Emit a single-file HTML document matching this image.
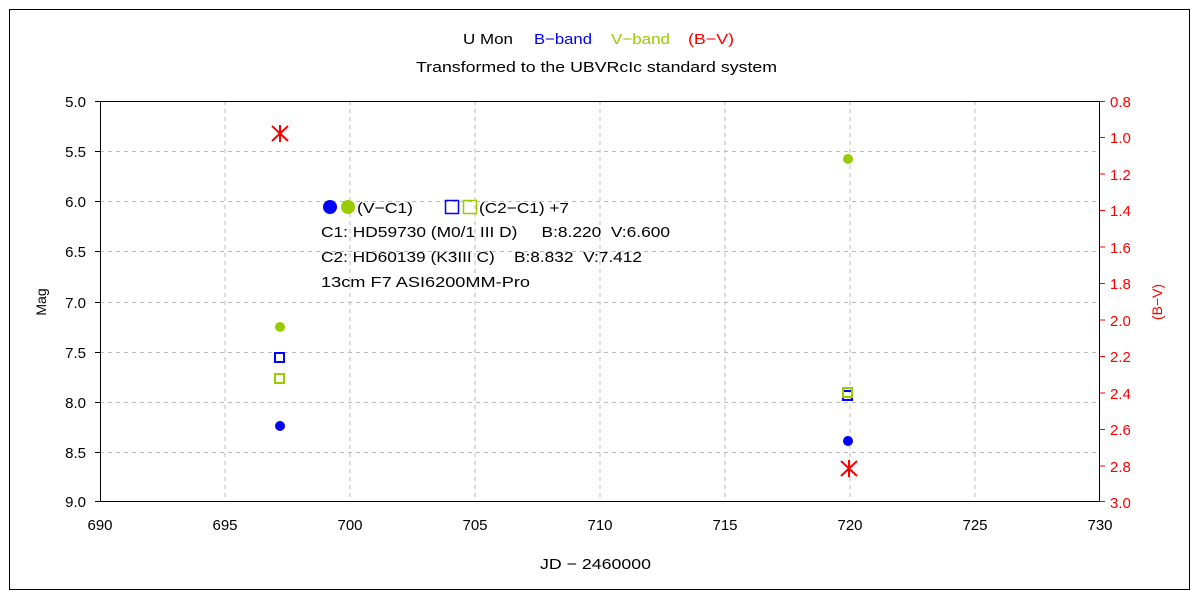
<!DOCTYPE html>
<html><head><meta charset="utf-8"><style>body{margin:0;background:#fff}svg{display:block}text{font-family:"Liberation Sans","Noto Sans CJK JP",sans-serif}</style></head><body>
<svg width="1200" height="600" xmlns="http://www.w3.org/2000/svg">
<rect x="0" y="0" width="1200" height="600" fill="#fff"/>
<rect x="9.5" y="9.5" width="1180" height="580" fill="none" stroke="#000" stroke-width="1"/>
<g stroke="#bbb" stroke-dasharray="4,4" stroke-width="1">
<line x1="225" y1="101" x2="225" y2="502"/><line x1="350" y1="101" x2="350" y2="502"/><line x1="475" y1="101" x2="475" y2="502"/><line x1="600" y1="101" x2="600" y2="502"/><line x1="725" y1="101" x2="725" y2="502"/><line x1="850" y1="101" x2="850" y2="502"/><line x1="975" y1="101" x2="975" y2="502"/>
<line x1="100" y1="151.5" x2="1100" y2="151.5"/><line x1="100" y1="201.5" x2="1100" y2="201.5"/><line x1="100" y1="251.5" x2="1100" y2="251.5"/><line x1="100" y1="302.5" x2="1100" y2="302.5"/><line x1="100" y1="352.5" x2="1100" y2="352.5"/><line x1="100" y1="402.5" x2="1100" y2="402.5"/><line x1="100" y1="452.5" x2="1100" y2="452.5"/>
</g>
<rect x="100.5" y="101.5" width="999" height="400" fill="none" stroke="#000"/>
<g stroke="#000"><line x1="95" y1="101.5" x2="100" y2="101.5"/><line x1="95" y1="151.5" x2="100" y2="151.5"/><line x1="95" y1="201.5" x2="100" y2="201.5"/><line x1="95" y1="251.5" x2="100" y2="251.5"/><line x1="95" y1="302.5" x2="100" y2="302.5"/><line x1="95" y1="352.5" x2="100" y2="352.5"/><line x1="95" y1="402.5" x2="100" y2="402.5"/><line x1="95" y1="452.5" x2="100" y2="452.5"/><line x1="95" y1="501.5" x2="100" y2="501.5"/></g>
<g stroke="red">
<line x1="1100" y1="101.5" x2="1105" y2="101.5"/><line x1="1100" y1="137.5" x2="1105" y2="137.5"/><line x1="1100" y1="174" x2="1105" y2="174"/><line x1="1100" y1="210.5" x2="1105" y2="210.5"/><line x1="1100" y1="247" x2="1105" y2="247"/><line x1="1100" y1="283.5" x2="1105" y2="283.5"/><line x1="1100" y1="320" x2="1105" y2="320"/><line x1="1100" y1="356.5" x2="1105" y2="356.5"/><line x1="1100" y1="393" x2="1105" y2="393"/><line x1="1100" y1="429.5" x2="1105" y2="429.5"/><line x1="1100" y1="466" x2="1105" y2="466"/><line x1="1100" y1="501.5" x2="1105" y2="501.5"/></g>
<g font-size="15" text-anchor="end" fill="#000">
<text x="86" y="107">5.0</text><text x="86" y="157">5.5</text><text x="86" y="207">6.0</text><text x="86" y="257">6.5</text><text x="86" y="308">7.0</text><text x="86" y="358">7.5</text><text x="86" y="408">8.0</text><text x="86" y="458">8.5</text><text x="86" y="507">9.0</text></g>
<g font-size="15" fill="red">
<text x="1110" y="107">0.8</text><text x="1110" y="143">1.0</text><text x="1110" y="180">1.2</text><text x="1110" y="216">1.4</text><text x="1110" y="253">1.6</text><text x="1110" y="289">1.8</text><text x="1110" y="326">2.0</text><text x="1110" y="362">2.2</text><text x="1110" y="399">2.4</text><text x="1110" y="435">2.6</text><text x="1110" y="472">2.8</text><text x="1110" y="508">3.0</text></g>
<g font-size="15" text-anchor="middle">
<text x="100" y="530">690</text><text x="225" y="530">695</text><text x="350" y="530">700</text><text x="475" y="530">705</text><text x="600" y="530">710</text><text x="725" y="530">715</text><text x="850" y="530">720</text><text x="975" y="530">725</text><text x="1100" y="530">730</text>
</g>
<g font-size="15">
<text x="540" y="569" textLength="111" lengthAdjust="spacingAndGlyphs">JD − 2460000</text>
<text x="416" y="72" textLength="361" lengthAdjust="spacingAndGlyphs">Transformed to the UBVRcIc standard system</text>
<text x="463" y="44" textLength="50" lengthAdjust="spacingAndGlyphs">U Mon</text>
<text x="534" y="44" fill="blue" textLength="58" lengthAdjust="spacingAndGlyphs">B−band</text>
<text x="611" y="44" fill="#99cc00" textLength="59" lengthAdjust="spacingAndGlyphs">V−band</text>
<text x="688" y="44" fill="red" textLength="46" lengthAdjust="spacingAndGlyphs">(B−V)</text>
</g>
<text font-size="14" transform="translate(46,302) rotate(-90)" text-anchor="middle">Mag</text>
<text font-size="14" fill="red" transform="translate(1162,302) rotate(-90)" text-anchor="middle">(B−V)</text>
<circle cx="330" cy="207" r="7" fill="blue"/><circle cx="348" cy="207" r="7" fill="#99cc00"/>
<rect x="445.5" y="200.5" width="13" height="13" fill="none" stroke="blue" stroke-width="1.5"/>
<rect x="463.5" y="200.5" width="13" height="13" fill="none" stroke="#99cc00" stroke-width="1.5"/>
<g font-size="15"><text x="357" y="213" textLength="56" lengthAdjust="spacingAndGlyphs">(V−C1)</text><text x="479" y="213" textLength="90" lengthAdjust="spacingAndGlyphs">(C2−C1) +7</text>
<text x="321" y="237" textLength="349" lengthAdjust="spacingAndGlyphs">C1: HD59730 (M0/1 III D)&#160;&#160;&#160;&#160; B:8.220&#160;&#160;V:6.600</text>
<text x="321" y="262" textLength="321" lengthAdjust="spacingAndGlyphs">C2: HD60139 (K3III C)&#160;&#160;&#160; B:8.832&#160;&#160;V:7.412</text>
<text x="321" y="287" textLength="209" lengthAdjust="spacingAndGlyphs">13cm F7 ASI6200MM-Pro</text></g>
<circle cx="280" cy="327" r="5" fill="#99cc00"/><circle cx="280" cy="426" r="5" fill="blue"/>
<rect x="275" y="353" width="9" height="9" fill="none" stroke="blue" stroke-width="2"/>
<rect x="275" y="374" width="9" height="9" fill="none" stroke="#99cc00" stroke-width="2"/>
<circle cx="848" cy="159" r="5" fill="#99cc00"/><circle cx="848" cy="441" r="5" fill="blue"/>
<rect x="843" y="391" width="9" height="9" fill="none" stroke="blue" stroke-width="2"/>
<rect x="843" y="388" width="9" height="9" fill="none" stroke="#99cc00" stroke-width="2"/>
<g stroke="red" stroke-width="2"><line x1="280" y1="125" x2="280" y2="142"/><line x1="272" y1="126" x2="288" y2="141"/><line x1="288" y1="126" x2="272" y2="141"/>
<line x1="849" y1="460" x2="849" y2="477"/><line x1="841" y1="461" x2="857" y2="476"/><line x1="857" y1="461" x2="841" y2="476"/></g>
</svg>
</body></html>
